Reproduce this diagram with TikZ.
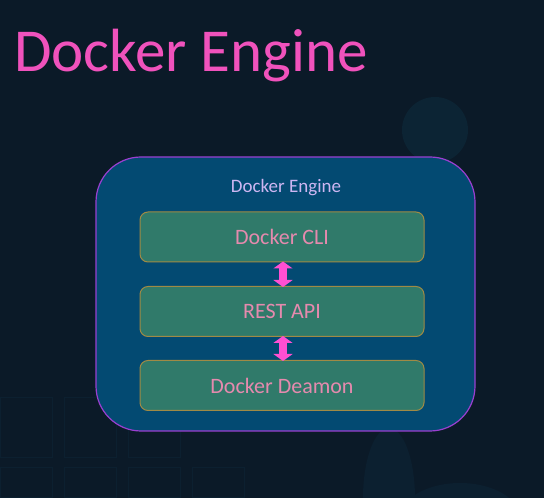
\documentclass[tikz,border=0pt]{standalone}
\usepackage{fontspec}
\setmainfont{Carlito}
\usetikzlibrary{arrows.meta}
\definecolor{bgc}{HTML}{0B1A28}
\definecolor{faint}{HTML}{0C2434}
\definecolor{fainter}{HTML}{0C2030}
\definecolor{outerfill}{HTML}{034A72}
\definecolor{outerdraw}{HTML}{9A3FD0}
\definecolor{innerfill}{HTML}{307A6A}
\definecolor{innerdraw}{HTML}{A08A45}
\definecolor{innertext}{HTML}{E58AAE}
\definecolor{labeltext}{HTML}{CDB6F2}
\definecolor{titlec}{HTML}{F052BC}
\definecolor{arrowc}{HTML}{FF4FD2}
\tikzset{
  x=1pt, y=1pt,
  layerbox/.style={draw=innerdraw, line width=1pt, fill=innerfill, rounded corners=8pt,
    minimum width=284pt, minimum height=50pt, inner sep=0pt,
    text=innertext, font=\fontsize{22}{26}\selectfont},
  fatarrow/.style={draw=arrowc, line width=8pt,
    {Triangle[width=19pt,length=7pt]}-{Triangle[width=19pt,length=7pt]}, shorten <=-1pt, shorten >=-1pt},
}
\begin{document}
\begin{tikzpicture}
\useasboundingbox (0,0) rectangle (544,498);
\fill[bgc] (0,0) rectangle (544,498);
% faint background decorations
\fill[faint] (435,368) circle (33);
\fill[fainter] (389,0) ellipse (26 and 70);
\fill[fainter] (460,-20) ellipse (60 and 35);
\foreach \i in {0,1,2}{
  \draw[fainter, line width=1pt] (\i*64,40) rectangle ++(52,60);
}
\foreach \i in {0,1,2,3}{
  \draw[fainter, line width=1pt] (\i*64,0) rectangle ++(52,30);
}
% outer engine box
\node[draw=outerdraw, line width=1.2pt, fill=outerfill, rounded corners=45pt,
  minimum width=379pt, minimum height=274pt, inner sep=0pt] (engine) at (285.5,204) {};
\node[text=labeltext, font=\fontsize{19}{22}\selectfont] (enginelabel) at (286,310) {Docker Engine};
% layers
\node[layerbox] (cli) at (282,261) {Docker CLI};
\node[layerbox] (rest) at (282,186.5) {REST API};
\node[layerbox] (daemon) at (282,112.5) {Docker Deamon};
% arrows
\draw[fatarrow] ([xshift=1pt]cli.south) -- ([xshift=1pt]rest.north);
\draw[fatarrow] ([xshift=1pt]rest.south) -- ([xshift=1pt]daemon.north);
% title
\node[anchor=base west, inner sep=0pt, text=titlec, font=\fontsize{61}{70}\selectfont] (title) at (14,426) {Docker Engine};
\end{tikzpicture}
\end{document}
